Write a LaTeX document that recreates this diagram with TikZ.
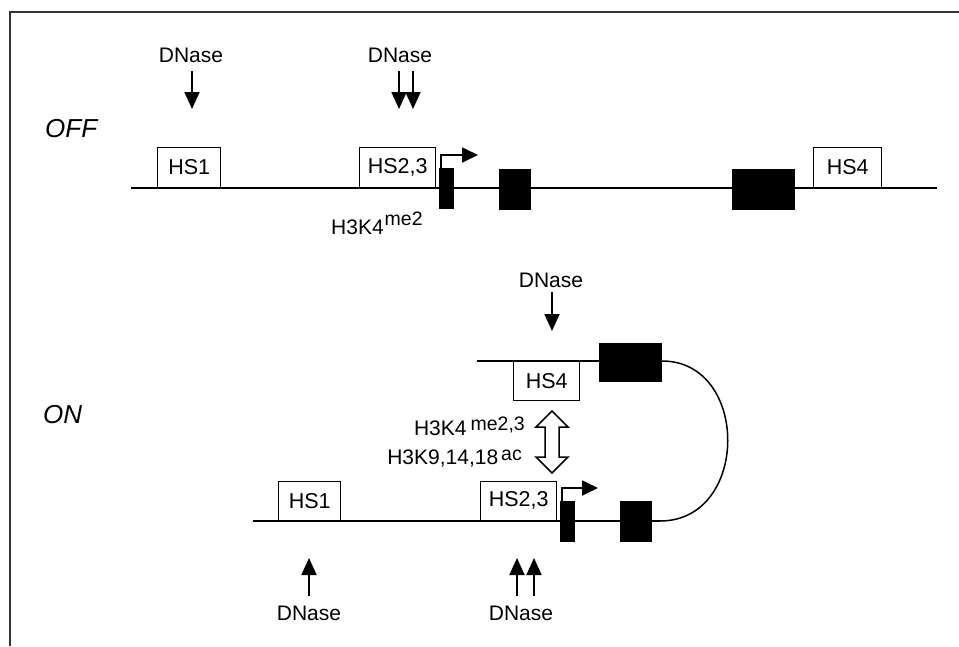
\documentclass[tikz,border=0pt]{standalone}
\usepackage{fontspec}
\setmainfont{Liberation Sans}
\usetikzlibrary{arrows.meta}
\begin{document}
\begin{tikzpicture}[x=1pt,y=-1pt,
  hsbox/.style={draw,line width=1.4pt,fill=white,inner sep=0pt,font=\fontsize{21.5}{24}\selectfont},
  exon/.style={fill=black,draw=none,inner sep=0pt},
  lbl/.style={font=\fontsize{21}{24}\selectfont,inner sep=0pt,anchor=base},
  statelbl/.style={font=\fontsize{26}{30}\selectfont\itshape,inner sep=0pt,anchor=base west},
  dna/.style={line width=2.6pt},
  dnathin/.style={line width=2pt},
  cutarrow/.style={line width=1.8pt,-{Triangle[length=17pt,width=15pt]}},
  tssarrow/.style={line width=1.8pt,-{Triangle[length=16pt,width=15pt]}},
  frameline/.style={line width=1.5pt,draw=black!80}
]
\useasboundingbox (0,0) rectangle (959,646);
% frame
\coordinate (f1) at (10,646);
\coordinate (f2) at (10,12);
\coordinate (f3) at (959,12);
\draw[frameline] (f1) -- (f2) -- (f3);

% ---------------- OFF ----------------
\node[statelbl] (off) at (45,137) {OFF};
\coordinate (offL) at (131,188);
\coordinate (offR) at (937,188);
\draw[dna] (offL) -- (offR);
\node[hsbox,minimum width=63pt,minimum height=40pt,anchor=south west] (hs1a) at (157,188) {HS1};
\node[hsbox,minimum width=76pt,minimum height=40pt,anchor=south west] (hs23a) at (359,188) {HS2,3};
\node[hsbox,minimum width=68pt,minimum height=40pt,anchor=south west] (hs4a) at (813,188) {HS4};
\node[exon,minimum width=15pt,minimum height=41pt,anchor=north west] (pa) at (439,168) {};
\node[exon,minimum width=32pt,minimum height=41pt,anchor=north west] (e2a) at (499,169) {};
\node[exon,minimum width=63pt,minimum height=41pt,anchor=north west] (e3a) at (732,169) {};
\coordinate (tssa) at (478,155);
\draw[tssarrow] ([xshift=2pt]pa.north west) |- (tssa);
% DNase OFF
\node[lbl] (dn1) at (191,62) {DNase};
\node[lbl] (dn2) at (400,62) {DNase};
\coordinate (c1t) at (192,71);  \coordinate (c1b) at (192,109);
\coordinate (c2t) at (399,71);  \coordinate (c2b) at (399,109);
\coordinate (c3t) at (413,71);  \coordinate (c3b) at (413,109);
\draw[cutarrow] (c1t) -- (c1b);
\draw[cutarrow] (c2t) -- (c2b);
\draw[cutarrow] (c3t) -- (c3b);
\node[lbl,anchor=base west] (mod1) at (331,234) {H3K4\hspace{1pt}\raisebox{9pt}{\fontsize{19.5}{20}\selectfont me2}};

% ---------------- ON ----------------
\node[statelbl] (on) at (43,423) {ON};
% upper strand
\coordinate (upL) at (477,361);
\coordinate (upR) at (662,361);
\draw[dna] (upL) -- (upR);
\node[hsbox,minimum width=66pt,minimum height=39pt,anchor=north west] (hs4b) at (513,361) {HS4};
\node[exon,minimum width=63pt,minimum height=39pt,anchor=north west] (e3b) at (599,343) {};
% lower strand
\coordinate (loL) at (253,521);
\coordinate (loR) at (660,521);
\draw[dnathin] (loL) -- (loR);
\node[hsbox,minimum width=62pt,minimum height=39pt,anchor=south west] (hs1b) at (278,521) {HS1};
\node[hsbox,minimum width=76pt,minimum height=39pt,anchor=south west] (hs23b) at (480,521) {HS2,3};
\node[exon,minimum width=15pt,minimum height=41pt,anchor=north west] (pb) at (560,501) {};
\node[exon,minimum width=32pt,minimum height=41pt,anchor=north west] (e2b) at (620,501) {};
\coordinate (tssb) at (598,488);
\draw[tssarrow] ([xshift=2pt]pb.north west) |- (tssb);
% loop
\draw[line width=1.5pt] (upR) .. controls (750,361) and (750,521) .. (loR);
% DNase ON
\node[lbl] (dn3) at (551,287) {DNase};
\coordinate (c4t) at (552,292); \coordinate (c4b) at (552,331);
\draw[cutarrow] (c4t) -- (c4b);
\node[lbl] (dn4) at (309,620) {DNase};
\node[lbl] (dn5) at (521,620) {DNase};
\coordinate (c5b) at (309,596); \coordinate (c5t) at (309,558);
\coordinate (c6b) at (517,596); \coordinate (c6t) at (517,558);
\coordinate (c7b) at (534,596); \coordinate (c7t) at (534,558);
\draw[cutarrow] (c5b) -- (c5t);
\draw[cutarrow] (c6b) -- (c6t);
\draw[cutarrow] (c7b) -- (c7t);
% interaction arrow
\draw[line width=1.5pt,fill=white,line join=miter]
  (552,411) -- (568,427) -- (559,427) -- (559,457) -- (568,457) -- (552,473)
  -- (536,457) -- (545,457) -- (545,427) -- (536,427) -- cycle;
\node[lbl,anchor=base east] (mod2) at (525,435) {H3K4\hspace{4pt}\raisebox{5pt}{\fontsize{19.5}{20}\selectfont me2,3}};
\node[lbl,anchor=base east] (mod3) at (522,464) {H3K9,14,18\hspace{3pt}\raisebox{4pt}{\fontsize{19.5}{20}\selectfont ac}};
\end{tikzpicture}
\end{document}
